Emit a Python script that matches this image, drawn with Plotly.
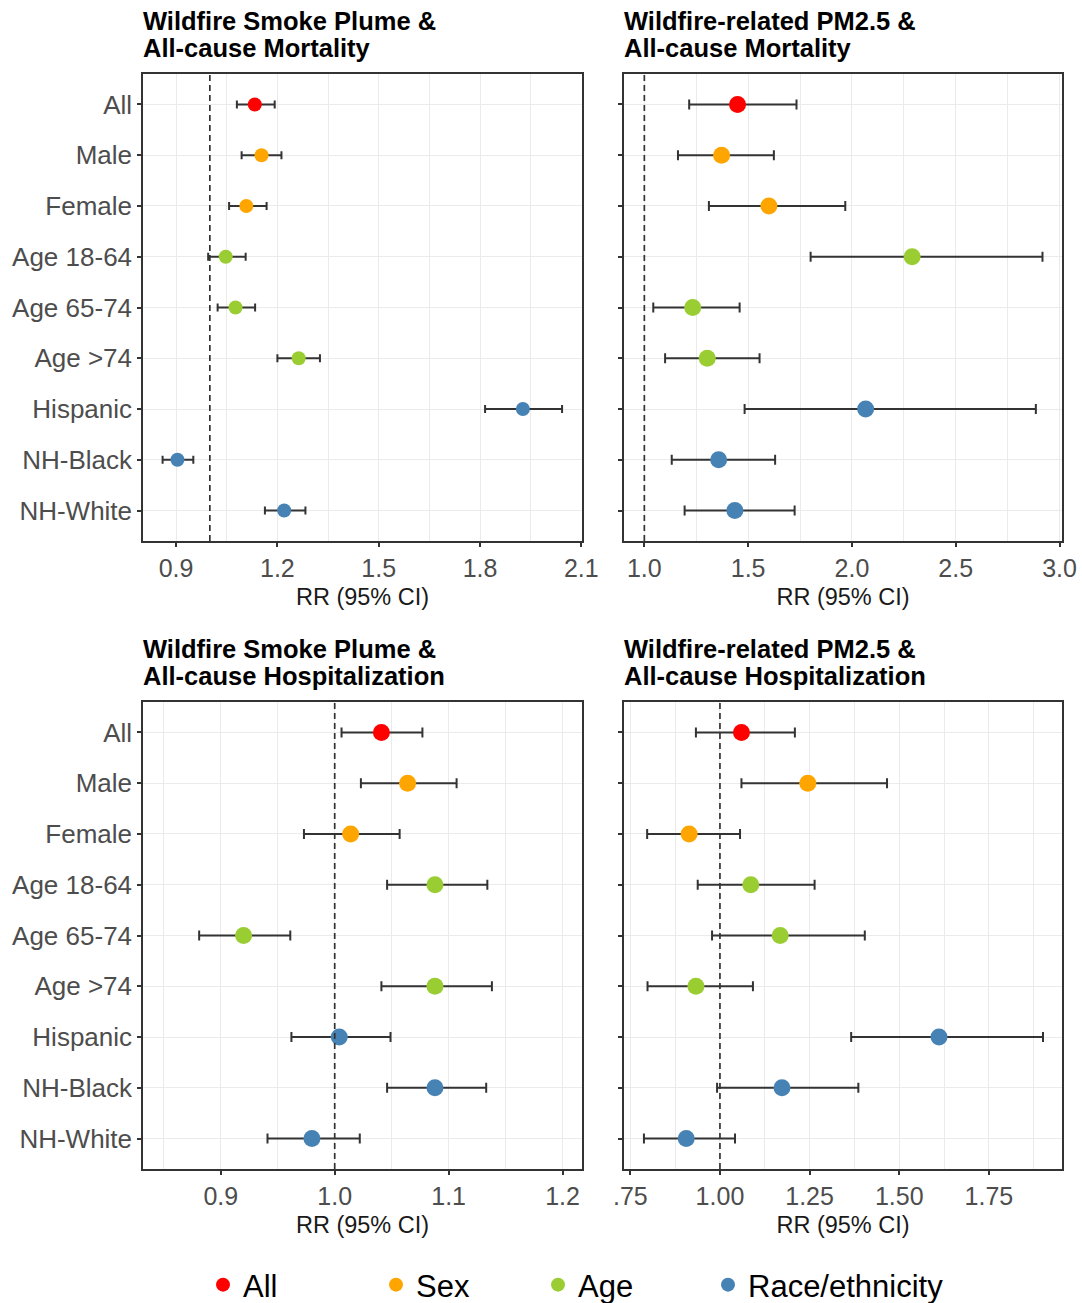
import plotly.graph_objects as go

# Subgroups (rows, top to bottom) and the legend group each belongs to
categories = ["All", "Male", "Female", "Age 18-64", "Age 65-74", "Age >74",
              "Hispanic", "NH-Black", "NH-White"]
groups = ["All", "Sex", "Sex", "Age", "Age", "Age",
          "Race/ethnicity", "Race/ethnicity", "Race/ethnicity"]
group_order = ["All", "Sex", "Age", "Race/ethnicity"]
group_colors = {"All": "#FF0000", "Sex": "#FFA500",
                "Age": "#9ACD32", "Race/ethnicity": "#4682B4"}

# Wildfire smoke plume & all-cause mortality
smoke_mort_rr = [1.133, 1.153, 1.108, 1.047, 1.076, 1.263, 1.927, 0.904, 1.220]
smoke_mort_lo = [1.080, 1.094, 1.057, 0.995, 1.023, 1.200, 1.815, 0.860, 1.163]
smoke_mort_hi = [1.192, 1.212, 1.168, 1.106, 1.134, 1.326, 2.043, 0.951, 1.283]

# Wildfire-related PM2.5 & all-cause mortality
pm_mort_rr = [1.449, 1.372, 1.600, 2.290, 1.233, 1.303, 2.066, 1.358, 1.436]
pm_mort_lo = [1.216, 1.162, 1.311, 1.801, 1.043, 1.100, 1.483, 1.132, 1.194]
pm_mort_hi = [1.733, 1.624, 1.968, 2.918, 1.459, 1.555, 2.886, 1.630, 1.724]

# Wildfire smoke plume & all-cause hospitalization
smoke_hosp_rr = [1.041, 1.064, 1.014, 1.088, 0.920, 1.088, 1.004, 1.088, 0.980]
smoke_hosp_lo = [1.006, 1.023, 0.973, 1.046, 0.881, 1.041, 0.962, 1.046, 0.941]
smoke_hosp_hi = [1.077, 1.107, 1.057, 1.134, 0.961, 1.138, 1.049, 1.133, 1.022]

# Wildfire-related PM2.5 & all-cause hospitalization
pm_hosp_rr = [1.060, 1.245, 0.914, 1.086, 1.168, 0.933, 1.611, 1.173, 0.906]
pm_hosp_lo = [0.933, 1.060, 0.797, 0.938, 0.978, 0.798, 1.366, 0.992, 0.788]
pm_hosp_hi = [1.209, 1.466, 1.056, 1.264, 1.404, 1.092, 1.901, 1.386, 1.042]

# Tick values / labels for each panel's RR axis
smoke_mort_ticks = [0.9, 1.2, 1.5, 1.8, 2.1]
smoke_mort_labels = ["0.9", "1.2", "1.5", "1.8", "2.1"]
pm_mort_ticks = [1.0, 1.5, 2.0, 2.5, 3.0]
pm_mort_labels = ["1.0", "1.5", "2.0", "2.5", "3.0"]
smoke_hosp_ticks = [0.9, 1.0, 1.1, 1.2]
smoke_hosp_labels = ["0.9", "1.0", "1.1", "1.2"]
pm_hosp_ticks = [0.75, 1.00, 1.25, 1.50, 1.75]
pm_hosp_labels = [".75", "1.00", "1.25", "1.50", "1.75"]

W, H = 1082, 1303
FONT = "Liberation Sans, Arial, sans-serif"
GRID = "#EBEBEB"
DARK = "#333333"


def px_x(p):
    return p / W


def px_y(p):
    return 1 - p / H


panels = [
    dict(rr=smoke_mort_rr, lo=smoke_mort_lo, hi=smoke_mort_hi,
         ticks=smoke_mort_ticks, labels=smoke_mort_labels, minor=0.15,
         xr=[0.802, 2.102], xd=[143, 582], yd=[74, 541], size=14, cap=4,
         title=["Wildfire Smoke Plume &", "All-cause Mortality"], ylabels=True),
    dict(rr=pm_mort_rr, lo=pm_mort_lo, hi=pm_mort_hi,
         ticks=pm_mort_ticks, labels=pm_mort_labels, minor=0.25,
         xr=[0.902, 3.012], xd=[624, 1062], yd=[74, 541], size=17, cap=5,
         title=["Wildfire-related PM2.5 &", "All-cause Mortality"], ylabels=False),
    dict(rr=smoke_hosp_rr, lo=smoke_hosp_lo, hi=smoke_hosp_hi,
         ticks=smoke_hosp_ticks, labels=smoke_hosp_labels, minor=0.05,
         xr=[0.8317, 1.2171], xd=[143, 582], yd=[702, 1169], size=17, cap=5,
         title=["Wildfire Smoke Plume &", "All-cause Hospitalization"], ylabels=True),
    dict(rr=pm_hosp_rr, lo=pm_hosp_lo, hi=pm_hosp_hi,
         ticks=pm_hosp_ticks, labels=pm_hosp_labels, minor=0.125,
         xr=[0.7324, 1.954], xd=[624, 1062], yd=[702, 1169], size=17, cap=5,
         title=["Wildfire-related PM2.5 &", "All-cause Hospitalization"], ylabels=False),
]

# one legend box per group, laid out along the bottom
legend_names = ["legend", "legend2", "legend3", "legend4"]
legend_left_px = [203, 376, 538, 708]

fig = go.Figure()
layout = {}
shapes = []
annotations = []

for i, p in enumerate(panels):
    n = i + 1
    xa = "x" if n == 1 else f"x{n}"
    ya = "y" if n == 1 else f"y{n}"
    for gi, g in enumerate(group_order):
        idx = [k for k, gg in enumerate(groups) if gg == g]
        rr = [p["rr"][k] for k in idx]
        fig.add_trace(go.Scatter(
            x=rr,
            y=[categories[k] for k in idx],
            mode="markers",
            name=g,
            legendgroup=g,
            legend=legend_names[gi],
            showlegend=(i == 0),
            marker=dict(color=group_colors[g], size=p["size"], line=dict(width=0)),
            error_x=dict(type="data", symmetric=False,
                         array=[p["hi"][k] - p["rr"][k] for k in idx],
                         arrayminus=[p["rr"][k] - p["lo"][k] for k in idx],
                         color=DARK, thickness=2, width=p["cap"]),
            xaxis=xa, yaxis=ya,
        ))

    axis_common = dict(showline=True, mirror=True, linecolor=DARK, linewidth=1.5,
                       ticks="outside", ticklen=4, tickcolor=DARK, tickwidth=1.5,
                       zeroline=False, gridcolor=GRID, gridwidth=1.2,
                       automargin=False)
    layout[f"xaxis{'' if n == 1 else n}"] = dict(
        domain=[px_x(p["xd"][0]), px_x(p["xd"][1])],
        anchor=ya, range=p["xr"],
        tickmode="array", tickvals=p["ticks"], ticktext=p["labels"],
        tickfont=dict(family=FONT, size=25, color="#4D4D4D"),
        minor=dict(dtick=p["minor"], tick0=p["ticks"][0], showgrid=True,
                   gridcolor=GRID, gridwidth=1, ticks=""),
        title=dict(text="RR (95% CI)", font=dict(family=FONT, size=23.5, color="#1A1A1A"),
                   standoff=8),
        **axis_common,
    )
    layout[f"yaxis{'' if n == 1 else n}"] = dict(
        domain=[px_y(p["yd"][1]), px_y(p["yd"][0])],
        anchor=xa, type="category",
        categoryorder="array", categoryarray=categories,
        range=[len(categories) - 0.4, -0.6],
        showticklabels=p["ylabels"],
        tickfont=dict(family=FONT, size=26, color="#4D4D4D"),
        **axis_common,
    )
    # reference line at RR = 1
    shapes.append(dict(type="line", xref=xa, yref=f"{ya} domain",
                       x0=1, x1=1, y0=0, y1=1,
                       line=dict(color=DARK, width=1.7, dash="6px,4px")))
    # two-line bold panel title
    for j, line in enumerate(p["title"]):
        annotations.append(dict(
            text=f"<b>{line}</b>", xref="paper", yref="paper",
            x=px_x(p["xd"][0] - 2), y=px_y(p["yd"][0] - 53 + 27 * j),
            xanchor="left", yanchor="middle", showarrow=False,
            font=dict(family=FONT, size=25.5, color="#000000")))

for name, left in zip(legend_names, legend_left_px):
    layout[name] = dict(orientation="h", x=px_x(left), xanchor="left",
                        y=px_y(1285), yanchor="middle",
                        bgcolor="rgba(0,0,0,0)",
                        font=dict(family=FONT, size=31, color="#000000"))

fig.update_layout(
    width=W, height=H,
    margin=dict(l=0, r=0, t=0, b=0, autoexpand=False),
    paper_bgcolor="white", plot_bgcolor="white",
    shapes=shapes, annotations=annotations,
    **layout,
)

fig.write_html("out.html")
